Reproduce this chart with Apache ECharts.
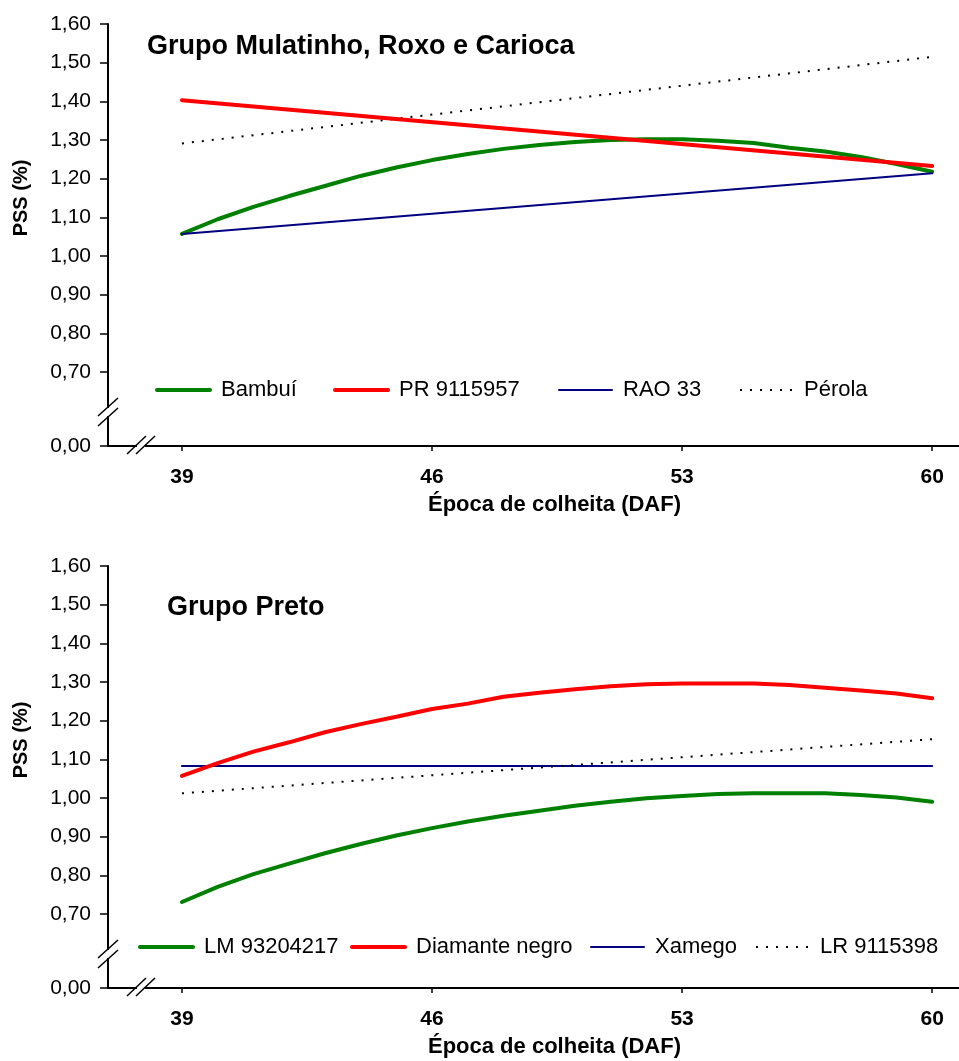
<!DOCTYPE html>
<html>
<head>
<meta charset="utf-8">
<script src="https://cdn.jsdelivr.net/npm/echarts@6/dist/echarts.min.js"></script>
<style>
html,body{margin:0;padding:0;background:#fff;}
#c{width:959px;height:1061px;}
</style>
</head>
<body>
<div id="c"></div>
<script>
// ---------- data ----------
const days = [39,40,41,42,43,44,45,46,47,48,49,50,51,52,53,54,55,56,57,58,59,60];
const linDays = [39, 60];

// Panel 1: Grupo Mulatinho, Roxo e Carioca
const bambui = [1.057,1.095,1.127,1.155,1.181,1.207,1.229,1.248,1.264,1.277,1.287,1.295,1.300,1.302,1.302,1.298,1.292,1.280,1.270,1.256,1.238,1.218];
const pr9115957 = [1.403, 1.233];
const rao33 = [1.057, 1.214];
const perola = [1.291, 1.515];

// Panel 2: Grupo Preto
const lm93204217 = [0.731,0.770,0.803,0.830,0.857,0.881,0.903,0.922,0.939,0.954,0.967,0.980,0.990,0.999,1.005,1.010,1.012,1.012,1.012,1.008,1.001,0.990];
const diamanteNegro = [1.057,1.090,1.120,1.144,1.170,1.191,1.210,1.230,1.244,1.262,1.272,1.281,1.289,1.294,1.296,1.296,1.296,1.292,1.285,1.278,1.270,1.258];
const xamego = [1.083, 1.083];
const lr9115398 = [1.012, 1.152];

// ticks
const xTicks = [39, 46, 53, 60];
const yFloor = 0.5085;               // broken-axis position drawn as "0,00"
const yTicks = [yFloor, 0.7, 0.8, 0.9, 1.0, 1.1, 1.2, 1.3, 1.4, 1.5, 1.6];
const yTickLabels = ['0,00','0,70','0,80','0,90','1,00','1,10','1,20','1,30','1,40','1,50','1,60'];

const titles = ['Grupo Mulatinho, Roxo e Carioca', 'Grupo Preto'];
const xName = 'Época de colheita (DAF)';
const yName = 'PSS (%)';

// ---------- layout ----------
const FONT = 'Liberation Sans, Arial, Helvetica, sans-serif';
const gridLeft = 108, gridWidth = 851, gridHeight = 422;
const gridTops = [24, 566];
const xMin = 36.93, xMax = 60.75;

const GREEN = '#008000', RED = '#ff0000', NAVY = '#000080', BLACK = '#000000';

function pairs(xs, ys){ return xs.map((x,i)=>[x, ys[i]]); }

const seriesDefs = [
  {name:'Bambuí', g:0, data:pairs(days,bambui), color:GREEN, width:4, type:'solid'},
  {name:'PR 9115957', g:0, data:pairs(linDays,pr9115957), color:RED, width:4, type:'solid'},
  {name:'RAO 33', g:0, data:pairs(linDays,rao33), color:NAVY, width:2, type:'solid'},
  {name:'Pérola', g:0, data:pairs(linDays,perola), color:BLACK, width:2, type:[2,8]},
  {name:'LM 93204217', g:1, data:pairs(days,lm93204217), color:GREEN, width:4, type:'solid'},
  {name:'Diamante negro', g:1, data:pairs(days,diamanteNegro), color:RED, width:4, type:'solid'},
  {name:'Xamego', g:1, data:pairs(linDays,xamego), color:NAVY, width:2, type:'solid'},
  {name:'LR 9115398', g:1, data:pairs(linDays,lr9115398), color:BLACK, width:2, type:[2,8]}
];

// legend item left positions (line start) and vertical centres
const legendLefts = [155, 333, 558, 739, 138, 350, 590, 755];
const legendCY = [390, 947];

const series = seriesDefs.map(s => ({
  name: s.name, type:'line', xAxisIndex:s.g, yAxisIndex:s.g,
  data: s.data, symbol:'none', showSymbol:false, smooth:false,
  lineStyle:{color:s.color, width:s.width, type:s.type, cap: Array.isArray(s.type) ? 'butt' : 'round'},
  itemStyle:{color:s.color},
  z: s.color===RED ? 3 : 2
}));

const legends = seriesDefs.map((s,i) => ({
  data:[s.name], left: legendLefts[i], top: legendCY[s.g] - 11,
  itemWidth: 53, itemHeight: 14, padding: 0,
  itemStyle:{opacity:0},
  lineStyle:{width:s.width, color:s.color, type:s.type, cap: Array.isArray(s.type) ? 'butt' : 'round'},
  textStyle:{fontSize:22, color:'#000', fontFamily:FONT, padding:[0,0,0,6]},
  selectedMode:false
}));

const xAxes = [0,1].map(i => ({
  type:'value', gridIndex:i, min:xMin, max:xMax,
  axisLine:{onZero:false, lineStyle:{color:'#000', width:2}},
  axisTick:{customValues:xTicks, length:5, lineStyle:{color:'#000', width:1.5}},
  axisLabel:{customValues:xTicks, margin:21, fontSize:21, fontWeight:'bold', color:'#000', fontFamily:FONT},
  splitLine:{show:false},
  name:xName, nameLocation:'middle', nameGap:48,
  nameTextStyle:{fontSize:22, fontWeight:'bold', color:'#000', fontFamily:FONT, padding:[0,0,0,42]}
}));

const yAxes = [0,1].map(i => ({
  type:'value', gridIndex:i, min:yFloor, max:1.6,
  axisLine:{onZero:false, lineStyle:{color:'#000', width:2}},
  axisTick:{customValues:yTicks, length:8, lineStyle:{color:'#000', width:1.5}},
  axisLabel:{customValues:yTicks, margin:17, fontSize:21, color:'#000', fontFamily:FONT,
    formatter: v => { const k = yTicks.findIndex(t => Math.abs(t - v) < 1e-6); return k >= 0 ? yTickLabels[k] : ''; }},
  splitLine:{show:false}
}));

// decorations: axis-break marks and rotated y names
const graphic = [];
gridTops.forEach((top, i) => {
  const bottom = top + gridHeight;
  // y-axis break
  const yb = bottom - 34;
  graphic.push({type:'rect', z:100, shape:{x:gridLeft-3, y:yb-4, width:6, height:8}, style:{fill:'#fff'}});
  graphic.push({type:'line', z:101, shape:{x1:gridLeft-10, y1:yb+4, x2:gridLeft+10, y2:yb-14}, style:{stroke:'#000', lineWidth:1.5}});
  graphic.push({type:'line', z:101, shape:{x1:gridLeft-10, y1:yb+14, x2:gridLeft+10, y2:yb-4}, style:{stroke:'#000', lineWidth:1.5}});
  // x-axis break
  const xb = gridLeft + 33;
  graphic.push({type:'rect', z:100, shape:{x:xb-4, y:bottom-3, width:8, height:6}, style:{fill:'#fff'}});
  graphic.push({type:'line', z:101, shape:{x1:xb-14, y1:bottom+8, x2:xb+5, y2:bottom-10}, style:{stroke:'#000', lineWidth:1.5}});
  graphic.push({type:'line', z:101, shape:{x1:xb-5, y1:bottom+8, x2:xb+14, y2:bottom-10}, style:{stroke:'#000', lineWidth:1.5}});
  // y axis name centred on the 0,70–1,60 span
  graphic.push({type:'text', z:101, x:21, y: top + 174, rotation:Math.PI/2,
    style:{text:yName, fontSize:20, fontWeight:'bold', fill:'#000', fontFamily:FONT, align:'center', verticalAlign:'middle'}});
});

const option = {
  animation:false,
  backgroundColor:'#fff',
  textStyle:{fontFamily:FONT},
  title:[
    {text:titles[0], left:147, top:33, padding:0, textStyle:{fontSize:27, fontWeight:'bold', color:'#000', fontFamily:FONT}},
    {text:titles[1], left:167, top:594, padding:0, textStyle:{fontSize:27, fontWeight:'bold', color:'#000', fontFamily:FONT}}
  ],
  grid: gridTops.map(t => ({left:gridLeft, top:t, width:gridWidth, height:gridHeight})),
  xAxis: xAxes,
  yAxis: yAxes,
  legend: legends,
  series: series,
  graphic: graphic
};

const chart = echarts.init(document.getElementById('c'), null, {renderer:'canvas'});
chart.setOption(option);
</script>
</body>
</html>
